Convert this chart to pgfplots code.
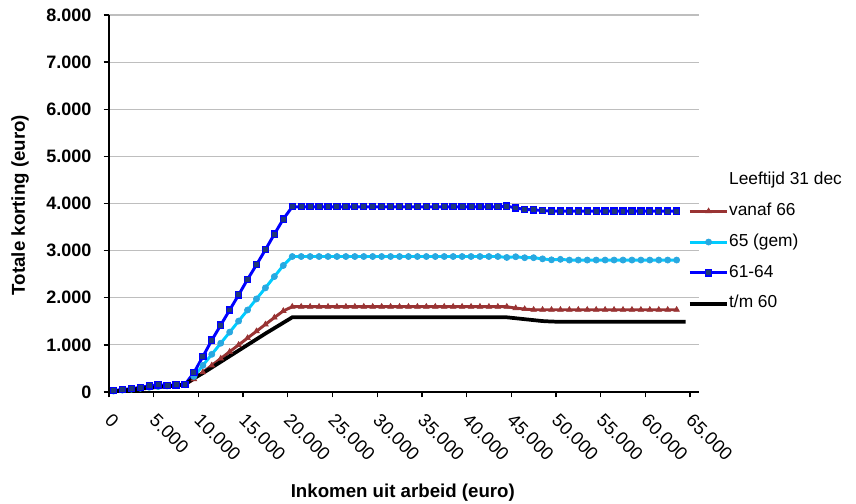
\documentclass[border=0pt]{standalone}
\usepackage{fontspec}
\setmainfont{Liberation Sans}
\usepackage{pgfplots}
\usepackage{pgfplotstable}
\pgfplotsset{compat=1.18}

\definecolor{rood}{RGB}{153,51,51}
\definecolor{lichtblauw}{RGB}{0,204,255}
\definecolor{lichtblauwmk}{RGB}{41,168,224}
\definecolor{blauw}{RGB}{0,0,255}
\definecolor{donkerblauw}{RGB}{31,56,120}
\definecolor{raster}{RGB}{190,190,190}

% inkomen, vanaf 66, 65 (gem), 61-64, t/m 60
\pgfplotstableread{
x      red   cyan  blue  black
500    15    20    30    10
1500   35    40    55    30
2500   55    60    70    50
3500   75    80    100   70
4500   95    100   130   90
5500   110   115   150   105
6500   125   130   140   120
7500   135   140   150   135
8500   150   155   160   165
9500   270   330   410   290
10500  420   565   750   400
11500  565   800   1100  520
12500  710   1035  1420  640
13500  855   1270  1740  760
14500  1000  1505  2060  880
15500  1145  1740  2390  1000
16500  1290  1975  2700  1120
17500  1435  2210  3020  1240
18500  1580  2450  3350  1355
19500  1720  2685  3670  1470
20500  1810  2875  3930  1585
21500  1810  2875  3930  1585
22500  1810  2875  3930  1585
23500  1810  2875  3930  1585
24500  1810  2875  3930  1585
25500  1810  2875  3930  1585
26500  1810  2875  3930  1585
27500  1810  2875  3930  1585
28500  1810  2875  3930  1585
29500  1810  2875  3930  1585
30500  1810  2875  3930  1585
31500  1810  2875  3930  1585
32500  1810  2875  3930  1585
33500  1810  2875  3930  1585
34500  1810  2875  3930  1585
35500  1810  2875  3930  1585
36500  1810  2875  3930  1585
37500  1810  2875  3930  1585
38500  1810  2875  3930  1585
39500  1810  2875  3930  1585
40500  1810  2875  3930  1585
41500  1810  2875  3930  1585
42500  1810  2875  3930  1585
43500  1810  2875  3930  1585
44500  1810  2855  3945  1585
45500  1780  2870  3905  1565
46500  1760  2850  3875  1545
47500  1745  2850  3865  1525
48500  1745  2825  3850  1505
49500  1745  2805  3840  1495
50500  1745  2815  3840  1490
51500  1745  2800  3840  1490
52500  1745  2800  3840  1490
53500  1745  2800  3840  1490
54500  1745  2800  3840  1490
55500  1745  2800  3840  1490
56500  1745  2800  3840  1490
57500  1745  2800  3840  1490
58500  1745  2800  3840  1490
59500  1745  2800  3840  1490
60500  1745  2800  3840  1490
61500  1745  2800  3840  1490
62500  1745  2800  3840  1490
63500  1745  2800  3840  1490
64500  nan   nan   nan   1490
}\korting

\begin{document}
\begin{tikzpicture}
\useasboundingbox (0,0) rectangle (642pt,377.25pt);
\begin{axis}[
  at={(81.75pt,83.25pt)}, anchor=south west,
  scale only axis, width=442.5pt, height=282.75pt,
  xmin=0, xmax=66000, ymin=0, ymax=8000,
  scaled x ticks=false, scaled y ticks=false,
  axis x line*=bottom, axis y line*=left,
  axis line style={-, line width=1.1pt},
  tick align=outside, major tick length=4pt,
  tick style={black, line width=1pt},
  xtick={0,5000,...,65000},
  xticklabels={0,5.000,10.000,15.000,20.000,25.000,30.000,35.000,40.000,45.000,50.000,55.000,60.000,65.000},
  ytick={0,1000,...,8000},
  yticklabels={0,1.000,2.000,3.000,4.000,5.000,6.000,7.000,8.000},
  xticklabel style={font=\fontsize{13.8}{16}\selectfont, rotate=-45, anchor=north west, inner sep=0pt, xshift=10.1pt, yshift=-5.8pt},
  yticklabel style={font=\fontsize{13.5}{16}\selectfont\bfseries, anchor=east, inner sep=0pt, xshift=-9pt},
  ymajorgrids, major grid style={raster, line width=0.9pt},
  xlabel={Inkomen uit arbeid (euro)},
  ylabel={Totale korting (euro)},
  every axis x label/.style={at={(axis description cs:0.498,-0.268)}, anchor=center, font=\fontsize{14}{17}\selectfont\bfseries},
  every axis y label/.style={at={(axis description cs:-0.1508,0.496)}, rotate=90, anchor=center, font=\fontsize{14}{17}\selectfont\bfseries},
  legend style={at={(0.981,0.584)}, anchor=north west, draw=none, fill=none, inner sep=0pt,
    font=\fontsize{13}{15.6}\selectfont, row sep=10.6pt,
    nodes={inner sep=0pt, text height=9.5pt, text depth=3pt},
    /tikz/every even column/.append style={column sep=1.5pt}},
  legend cell align=left,
  legend image code/.code={\draw[mark repeat=2, mark phase=2, #1] plot coordinates {(0pt,0pt) (14pt,0pt) (28pt,0pt)};},
]
\addlegendimage{empty legend}
\addlegendentry{Leeftijd 31 dec}

\addplot[rood, line width=2.2pt, mark=triangle*, mark size=2.4pt, mark options={fill=rood, draw=rood, line width=0.5pt}]
  table[x=x, y=red] {\korting};
\addlegendentry{vanaf 66}

\addplot[lichtblauw, line width=2.2pt, mark=*, mark size=2.3pt, mark options={fill=lichtblauwmk, draw=lichtblauwmk, line width=0.5pt}]
  table[x=x, y=cyan] {\korting};
\addlegendentry{65 (gem)}

\addplot[blauw, line width=2.2pt, mark=square*, mark size=2.3pt, mark options={fill=donkerblauw, draw=blauw, line width=0.9pt}]
  table[x=x, y=blue] {\korting};
\addlegendentry{61-64}

\addplot[black, line width=2.8pt]
  table[x=x, y=black] {\korting};
\addlegendentry{t/m 60}
\end{axis}
\end{tikzpicture}
\end{document}
